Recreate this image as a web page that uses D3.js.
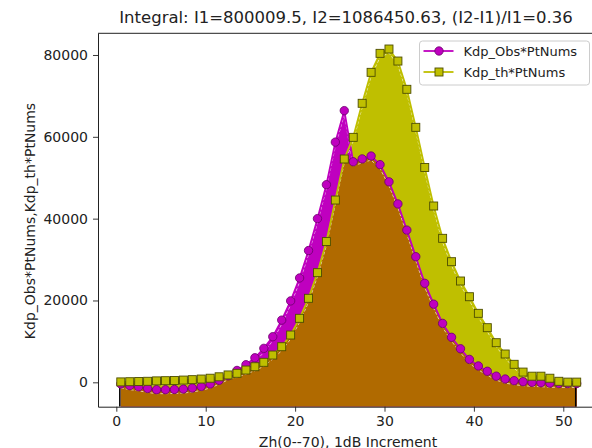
<!DOCTYPE html>
<html>
<head>
<meta charset="utf-8">
<script src="https://cdn.jsdelivr.net/npm/d3@7"></script>
<style>
  html, body { margin: 0; padding: 0; background: #fff; }
  svg { display: block; font-family: "DejaVu Sans", sans-serif; }
</style>
</head>
<body>
<script>
// bins: Zh 0..51, centres at .5
const zh = d3.range(52).map(i => i + 0.5);

// Kdp_Obs*PtNums
const obs = [
  -400, -800, -1100, -1500, -1800, -1800, -1750, -1650, -1400, -1000,
  -400, 500, 1600, 2900, 4300, 6000, 8300, 11150, 15200, 19900,
  25500, 32200, 40000, 48300, 58700, 66400, 53900, 54600, 55300, 53200,
  49000, 43600, 37200, 30700, 24200, 19100, 14400, 11000, 8200, 5600,
  4000, 2700, 1500, 800, 400, 150, 0, -100, -200, -300,
  -300, -300
];

// Kdp_th*PtNums
const th = [
  100, 150, 200, 250, 350, 400, 450, 550, 650, 800,
  1000, 1350, 1800, 2200, 3000, 3810, 4890, 6670, 8700, 11560,
  15640, 20530, 26800, 34400, 44550, 54580, 59870, 68190, 75760, 80400,
  81460, 78520, 71610, 62320, 52500, 43090, 35190, 29480, 24760, 20920,
  16860, 13350, 9680, 6920, 4400, 2500, 1500, 1500, 1000, 250,
  50, 50
];

const xTicks = [0, 10, 20, 30, 40, 50];
const yTicks = [0, 20000, 40000, 60000, 80000];
const seriesNames = ["Kdp_Obs*PtNums", "Kdp_th*PtNums"];
const titleText = "Integral: I1=800009.5, I2=1086450.63, (I2-I1)/I1=0.36";

const width = 592, height = 448;
const cObs = "#bf00bf", cTh = "#bfbf00", cMin = "#b06a00";

const x = d3.scaleLinear().domain([-2.05, 54.05]).range([98, 599.5]);
const y = d3.scaleLinear().domain([-5960, 85300]).range([406.7, 33.3]);

const rows = zh.map((z, i) => ({ z, o: obs[i], t: th[i] }));

const svg = d3.select("body").append("svg")
  .attr("width", width)
  .attr("height", height);

svg.append("defs").append("clipPath").attr("id", "plot")
  .append("rect")
  .attr("x", x.range()[0]).attr("y", y.range()[1])
  .attr("width", x.range()[1] - x.range()[0])
  .attr("height", y.range()[0] - y.range()[1]);

const g = svg.append("g").attr("clip-path", "url(#plot)");

// fills: larger series shows its own colour, overlap (under the min) is brown
const base = y.range()[0];
const area = key => d3.area().x(d => x(d.z)).y0(base).y1(d => y(key(d)));

g.append("path").datum(rows).attr("fill", cTh).attr("d", area(d => d.t));
g.append("path").datum(rows).attr("fill", cObs).attr("d", area(d => d.o));
g.append("path").datum(rows).attr("fill", cMin).attr("d", area(d => Math.min(d.o, d.t)));

// black edges at both ends
const ends = [rows[0], rows[rows.length - 1]];
g.selectAll("line.edge")
  .data(ends)
  .join("line")
  .attr("class", "edge")
  .attr("x1", d => x(d.z) - 1).attr("x2", d => x(d.z) - 1)
  .attr("y1", d => y(Math.max(d.o, d.t)) + 3)
  .attr("y2", base)
  .attr("stroke", "#000")
  .attr("stroke-width", 1.5);

const line = key => d3.line().x(d => x(d.z)).y(d => y(key(d)));

// light seams along the fill edges
[d => d.o, d => d.t].forEach(key => {
  g.append("path").datum(rows)
    .attr("fill", "none")
    .attr("stroke", "#fff")
    .attr("stroke-opacity", 0.8)
    .attr("stroke-width", 0.8)
    .attr("stroke-dasharray", "3,2")
    .attr("transform", "translate(0,4)")
    .attr("d", line(key));
});

// obs line + circles
g.append("path").datum(rows)
  .attr("fill", "none").attr("stroke", cObs).attr("stroke-width", 1.8)
  .attr("d", line(d => d.o));
g.selectAll("circle.obs")
  .data(rows)
  .join("circle")
  .attr("class", "obs")
  .attr("cx", d => x(d.z)).attr("cy", d => y(d.o))
  .attr("r", 4.2)
  .attr("fill", cObs).attr("stroke", "#6a006a").attr("stroke-width", 0.8);

// th line + squares
g.append("path").datum(rows)
  .attr("fill", "none").attr("stroke", cTh).attr("stroke-width", 1.8)
  .attr("d", line(d => d.t));
g.selectAll("rect.th")
  .data(rows)
  .join("rect")
  .attr("class", "th")
  .attr("x", d => x(d.z) - 4).attr("y", d => y(d.t) - 4)
  .attr("width", 8).attr("height", 8)
  .attr("fill", cTh).attr("stroke", "#4d4d00").attr("stroke-width", 0.9);

// axes
const xAxis = svg.append("g")
  .attr("transform", `translate(0,${base})`)
  .call(d3.axisBottom(x).tickValues(xTicks).tickSize(5).tickPadding(4).tickSizeOuter(0));
const yAxis = svg.append("g")
  .attr("transform", `translate(${x.range()[0]},0)`)
  .call(d3.axisLeft(y).tickValues(yTicks).tickFormat(d3.format("d")).tickSize(5).tickPadding(5).tickSizeOuter(0));

[xAxis, yAxis].forEach(a => {
  a.selectAll("text").attr("font-size", 14).attr("font-family", "DejaVu Sans").attr("fill", "#222");
  a.selectAll("line").attr("stroke", "#222").attr("stroke-width", 0.9);
  a.select(".domain").attr("stroke", "#222").attr("stroke-width", 1);
});
xAxis.selectAll("text").attr("dy", "0.71em");

// top spine
svg.append("line")
  .attr("x1", x.range()[0]).attr("x2", width)
  .attr("y1", y.range()[1]).attr("y2", y.range()[1])
  .attr("stroke", "#222").attr("stroke-width", 1);

// title and axis labels
svg.append("text")
  .attr("x", 346).attr("y", 23)
  .attr("text-anchor", "middle")
  .attr("font-size", 16.5).attr("fill", "#222")
  .text(titleText);

svg.append("text")
  .attr("x", 348).attr("y", 446.5)
  .attr("text-anchor", "middle")
  .attr("font-size", 14).attr("fill", "#222")
  .text("Zh(0--70), 1dB Increment");

svg.append("text")
  .attr("transform", "translate(35,221) rotate(-90)")
  .attr("text-anchor", "middle")
  .attr("font-size", 14).attr("fill", "#222")
  .text("Kdp_Obs*PtNums,Kdp_th*PtNums");

// legend
const legend = svg.append("g").attr("transform", "translate(419.5,41)");
legend.append("rect")
  .attr("width", 170).attr("height", 44).attr("rx", 3)
  .attr("fill", "#fff").attr("fill-opacity", 0.85)
  .attr("stroke", "#ccc").attr("stroke-width", 1);

const items = legend.selectAll("g.item")
  .data(seriesNames)
  .join("g")
  .attr("class", "item")
  .attr("transform", (d, i) => `translate(0,${10 + i * 21})`);

items.append("line")
  .attr("x1", 4).attr("x2", 34)
  .attr("stroke", (d, i) => i ? cTh : cObs).attr("stroke-width", 1.8);
items.each(function (d, i) {
  const s = d3.select(this);
  if (i === 0) {
    s.append("circle").attr("cx", 19.5).attr("r", 4.2)
      .attr("fill", cObs).attr("stroke", "#6a006a").attr("stroke-width", 0.8);
  } else {
    s.append("rect").attr("x", 15.5).attr("y", -4).attr("width", 8).attr("height", 8)
      .attr("fill", cTh).attr("stroke", "#4d4d00").attr("stroke-width", 0.9);
  }
});
items.append("text")
  .attr("x", 44).attr("dy", "0.35em")
  .attr("font-size", 13).attr("fill", "#222")
  .text(d => d);
</script>
</body>
</html>
